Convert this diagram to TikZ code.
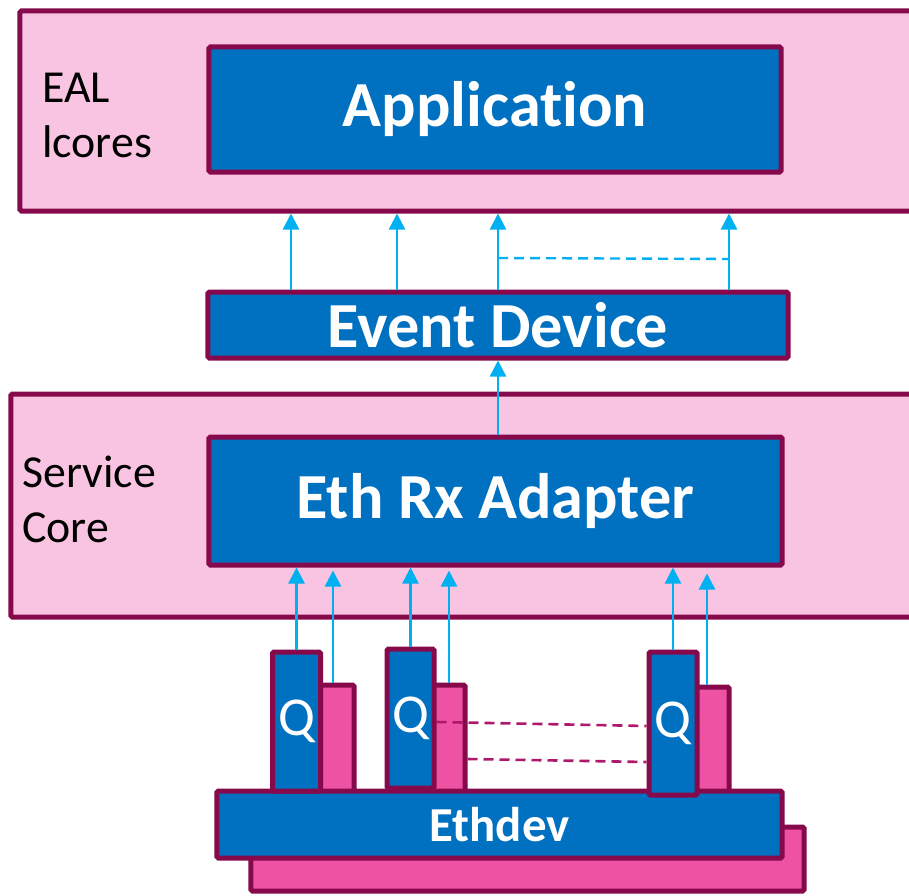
\documentclass[tikz,border=0pt]{standalone}
\usepackage{fontspec}
\setmainfont{Carlito}[Ligatures=NoCommon]
\usetikzlibrary{arrows.meta, positioning, calc}
\definecolor{corepink}{RGB}{249,196,225}
\definecolor{edgeplum}{RGB}{134,10,75}
\definecolor{boxblue}{RGB}{0,112,192}
\definecolor{qpink}{RGB}{238,82,162}
\definecolor{flowcyan}{RGB}{0,176,240}
\definecolor{linkplum}{RGB}{176,24,110}
\tikzstyle{corebox} = [rectangle, rounded corners=1.5bp, draw=edgeplum, line width=5bp, fill=corepink, inner sep=0pt]
\tikzstyle{blockbox} = [rectangle, rounded corners=1.5bp, draw=edgeplum, line width=5bp, fill=boxblue, text=white, inner sep=0pt, font=\fontsize{64.5}{72}\selectfont\bfseries]
\tikzstyle{queue} = [rectangle, rounded corners=1.5bp, draw=edgeplum, line width=5bp, fill=boxblue, text=white, inner sep=0pt, minimum width=48bp, font=\fontsize{55}{62}\selectfont]
\tikzstyle{ring} = [rectangle, rounded corners=1.5bp, draw=edgeplum, line width=5bp, fill=qpink, inner sep=0pt]
\tikzstyle{corelabel} = [anchor=base west, align=left, inner sep=0pt, font=\fontsize{46}{55}\selectfont]
\tikzstyle{arrow} = [flowcyan, line width=2.4bp, -{Triangle[width=16bp,length=16bp]}]
\tikzstyle{link} = [linkplum, line width=2.6bp, dash pattern=on 10bp off 6bp]
\begin{document}
\begin{tikzpicture}[x=1bp, y=-1bp]
\clip (0,0) rectangle (909,896);

% EAL lcores
\node (eal) [corebox, minimum width=910bp, minimum height=200bp] at (475,111) {};
\node (app) [blockbox, minimum width=572bp, minimum height=125bp] at (495,109.5) {Application};
\node (eallbl) [corelabel] at (42,157) {EAL\\lcores};

% Event device
\node (evdev) [blockbox, minimum width=580bp, minimum height=66bp] at (498,325) {Event Device};

% Service core
\node (svc) [corebox, minimum width=919bp, minimum height=223bp] at (470.5,505.5) {};
\node (rxa) [blockbox, minimum width=573bp, minimum height=128bp] at (495.5,501) {Eth Rx Adapter};
\node (svclbl) [corelabel] at (22,542) {Service\\Core};

% Ethdev and queues
\node (ethbk) [ring, minimum width=553bp, minimum height=64bp] at (527.5,859) {};
\node (pk1) [ring, minimum width=42bp, minimum height=107bp] at (333,738.5) {};
\node (pk2) [ring, minimum width=32bp, minimum height=107bp] at (449,738.5) {};
\node (pk3) [ring, minimum width=44bp, minimum height=105bp] at (707,739.5) {};
\node (eth) [blockbox, font=\fontsize{49}{56}\selectfont\bfseries, minimum width=565bp, minimum height=67bp] at (499.5,824.5) {Ethdev};
\node (q1) [queue, minimum height=139bp] at (296.5,721.5) {Q};
\node (q2) [queue, minimum width=47bp, minimum height=139bp] at (410.5,718.5) {Q};
\node (q3) [queue, minimum height=143bp] at (673,723.5) {Q};

\draw [link] (q2.east |- 0,722) -- (q3.west |- 0,726);
\draw [link] (pk2.east |- 0,759) -- (q3.west |- 0,762);

% Flows
\foreach \x in {291,397,498,729}
  \draw [arrow] (\x,0 |- evdev.north) -- (\x,0 |- eal.south);
\coordinate (dsplit) at (498,258);
\coordinate (dmerge) at (729,259);
\draw [flowcyan, line width=2.4bp, dash pattern=on 10bp off 6bp] (dsplit) -- (dmerge);
\draw [arrow] (498,0 |- rxa.north) -- (498,0 |- evdev.south);

\draw [arrow] (q1.north) -- (q1.north |- rxa.south);
\draw [arrow, shorten >=3bp] (pk1.north) -- (pk1.north |- rxa.south);
\draw [arrow] (q2.north) -- (q2.north |- rxa.south);
\draw [arrow, shorten >=3bp] (pk2.north) -- (pk2.north |- rxa.south);
\draw [arrow] (q3.north) -- (q3.north |- rxa.south);
\draw [arrow, shorten >=6bp] (pk3.north) -- (pk3.north |- rxa.south);

\end{tikzpicture}
\end{document}
